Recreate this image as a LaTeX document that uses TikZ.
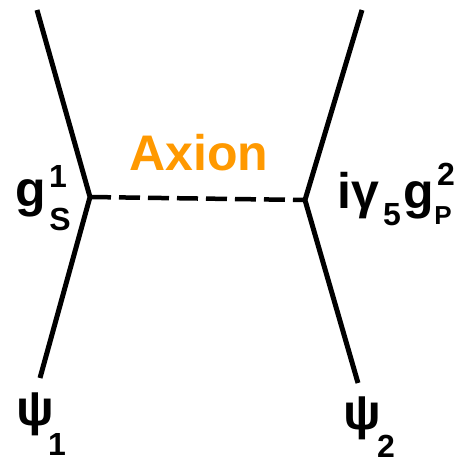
\documentclass[tikz,border=0pt]{standalone}
\usepackage{fontspec}
\setmainfont{Liberation Sans}
\usepackage{tikz}
\definecolor{axionorange}{RGB}{255,153,0}

\begin{document}
\begin{tikzpicture}[x=1pt,y=-1pt,
  fermion/.style={line width=5pt},
  axionline/.style={line width=4.5pt,dash pattern=on 21pt off 8pt},
  lbl/.style={inner sep=0pt,font=\fontsize{50}{50}\selectfont\bfseries},
  idx/.style={inner sep=0pt,font=\fontsize{32}{32}\selectfont\bfseries}]
  \useasboundingbox (0,0) rectangle (458,464);
  \coordinate (a1) at (37,10);
  \coordinate (v1) at (90,197);
  \coordinate (b1) at (40,378);
  \coordinate (a2) at (362,10);
  \coordinate (v2) at (305,200);
  \coordinate (b2) at (358,383);
  \draw[fermion] (a1) -- (v1) -- (b1);
  \draw[fermion] (a2) -- (v2) -- (b2);
  \draw[axionline] (v1) -- (v2);
  \node[font=\fontsize{50}{50}\selectfont\bfseries,text=axionorange] (ax) at (199,153) {Axion};
  % vertex labels
  \node[lbl] (g1) at (31,198) {g};
  \node[idx] (s1) at (60,219) {S};
  \node[idx] (one) at (58,176) {1};
  \node[lbl] (ig) at (358,196) {iγ};
  \node[idx] (five) at (392,215) {5};
  \node[lbl] (g2) at (419,200) {g};
  \node[idx] (two) at (446,174) {2};
  \node[idx,font=\fontsize{26}{26}\selectfont\bfseries] (pp) at (443,216) {P};
  % external lines
  \node[lbl] (psi1) at (35,414) {ψ};
  \node[idx] (n1) at (57,444) {1};
  \node[lbl] (psi2) at (362,418) {ψ};
  \node[idx] (n2) at (386,446) {2};
\end{tikzpicture}
\end{document}
